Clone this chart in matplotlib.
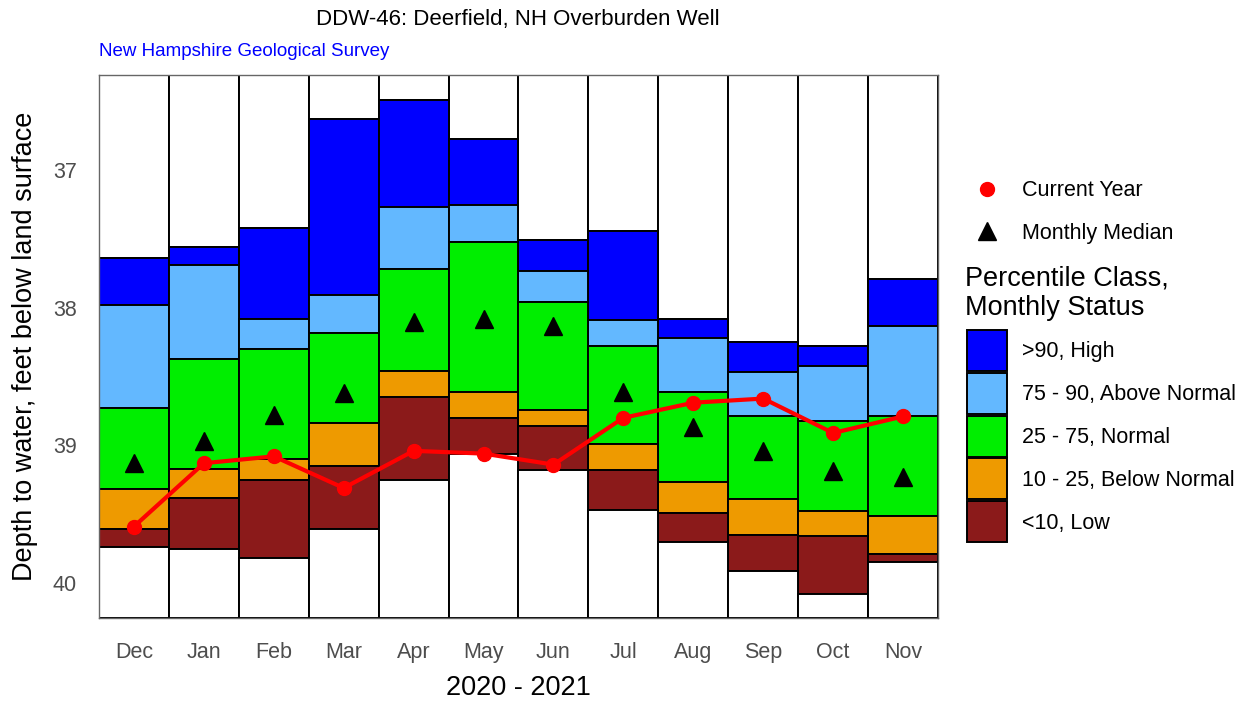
import numpy as np
import matplotlib
matplotlib.use('Agg')
import matplotlib.pyplot as plt
from matplotlib.patches import Rectangle
from matplotlib.lines import Line2D

plt.rcParams['font.family'] = ['Liberation Sans', 'DejaVu Sans']

# Datos (profundidad en pies, eje invertido)
months = ['Dec', 'Jan', 'Feb', 'Mar', 'Apr', 'May', 'Jun', 'Jul', 'Aug', 'Sep', 'Oct', 'Nov']
rec_top = [37.64, 37.56, 37.42, 36.63, 36.49, 36.77, 37.51, 37.44, 38.08, 38.25, 38.28, 37.79]
p90 = [37.98, 37.69, 38.08, 37.91, 37.27, 37.25, 37.73, 38.09, 38.22, 38.47, 38.42, 38.13]
p75 = [38.73, 38.37, 38.30, 38.18, 37.72, 37.52, 37.96, 38.28, 38.61, 38.79, 38.82, 38.79]
p25 = [39.32, 39.17, 39.10, 38.84, 38.46, 38.61, 38.74, 38.99, 39.27, 39.39, 39.48, 39.51]
p10 = [39.61, 39.38, 39.25, 39.15, 38.65, 38.80, 38.86, 39.18, 39.49, 39.65, 39.66, 39.79]
rec_bot = [39.74, 39.75, 39.82, 39.61, 39.25, 39.06, 39.18, 39.47, 39.70, 39.91, 40.08, 39.85]
median = [39.13, 38.97, 38.78, 38.62, 38.10, 38.08, 38.13, 38.61, 38.87, 39.04, 39.19, 39.23]
current = [39.59, 39.13, 39.08, 39.31, 39.04, 39.06, 39.14, 38.80, 38.69, 38.66, 38.91, 38.79]

y_top, y_bot = 36.308, 40.255

colors = ['white', '#0000FF', '#63B8FF', '#00EE00', '#EE9A00', '#8B1A1A', 'white']
class_labels = ['>90, High', '75 - 90, Above Normal', '25 - 75, Normal',
                '10 - 25, Below Normal', '<10, Low']

W, H = 1251, 702
fig = plt.figure(figsize=(W / 100, H / 100), dpi=100)
ax = fig.add_axes([99 / W, 1 - 618 / H, 839 / W, 543 / H])

x = np.arange(1, 13)
n = len(months)
edges = [np.full(n, y_top), rec_top, p90, p75, p25, p10, rec_bot, np.full(n, y_bot)]
for i, c in enumerate(colors):
    up = np.array(edges[i])
    lo = np.array(edges[i + 1])
    ax.bar(x, lo - up, bottom=up, width=1, color=c, edgecolor='black', linewidth=1.4, zorder=1)

ax.plot(x, current, color='red', linewidth=3, marker='o', markersize=10, zorder=3)
ax.plot(x, median, linestyle='none', marker='^', color='black', markersize=13, zorder=4)

ax.set_xlim(0.5, 12.5)
ax.set_ylim(y_bot, y_top)
ax.set_xticks(x)
ax.set_xticklabels(months)
ax.set_yticks([37, 38, 39, 40])
ax.tick_params(axis='both', length=0, labelsize=15.5, labelcolor='#4d4d4d')
ax.tick_params(axis='x', pad=17)
ax.tick_params(axis='y', pad=16)
for s in ax.spines.values():
    s.set_color('#666666')
    s.set_linewidth(1)

ax.set_ylabel('Depth to water, feet below land surface', fontsize=19.5)
ax.yaxis.set_label_coords(-0.088, 0.5)
ax.yaxis.label.set_va('center')
ax.set_xlabel('2020 - 2021', fontsize=19.5)
ax.xaxis.set_label_coords(0.5, -0.129)
ax.xaxis.label.set_va('center')

fig.text(518 / W, 1 - 19 / H, 'DDW-46: Deerfield, NH Overburden Well',
         ha='center', va='center', fontsize=16)
fig.text(99 / W, 1 - 52 / H, 'New Hampshire Geological Survey',
         ha='left', va='center', fontsize=13.5, color='blue')

# Leyenda manual
fig.add_artist(Line2D([987 / W], [1 - 189 / H], marker='o', color='red',
                      markersize=10, linestyle='none', transform=fig.transFigure))
fig.add_artist(Line2D([987 / W], [1 - 231 / H], marker='^', color='black',
                      markersize=13, linestyle='none', transform=fig.transFigure))
fig.text(1022 / W, 1 - 191 / H, 'Current Year', ha='left', va='center', fontsize=15.5)
fig.text(1022 / W, 1 - 233 / H, 'Monthly Median', ha='left', va='center', fontsize=15.5)
fig.text(965 / W, 1 - 279 / H, 'Percentile Class,', ha='left', va='center', fontsize=19.5)
fig.text(965 / W, 1 - 308 / H, 'Monthly Status', ha='left', va='center', fontsize=19.5)

for k, lab in enumerate(class_labels):
    top = 330 + k * 42.75
    fig.add_artist(Rectangle((967 / W, 1 - (top + 41) / H), 40 / W, 41 / H,
                             facecolor=colors[k + 1], edgecolor='black', linewidth=1.4,
                             transform=fig.transFigure))
    fig.text(1022 / W, 1 - (top + 22) / H, lab, ha='left', va='center', fontsize=15.5)

fig.savefig('out.png', dpi=100)
